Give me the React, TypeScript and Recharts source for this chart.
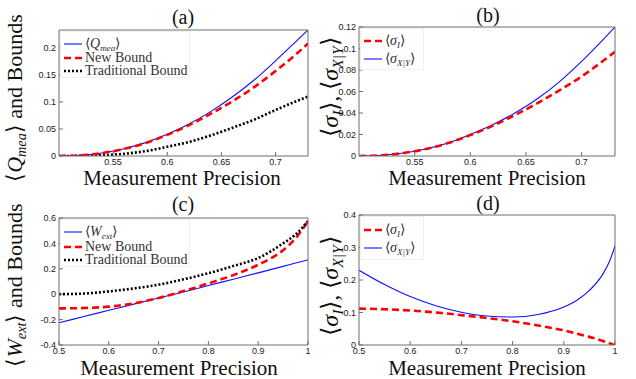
import React from 'react';
import { LineChart, Line, XAxis, YAxis } from 'recharts';

// measurement precision grid for the top row (a, b)
const precisionTop = [0.5, 0.52, 0.54, 0.56, 0.58, 0.6, 0.62, 0.64, 0.66, 0.68, 0.7, 0.72, 0.73];
const qMea = [0, 0.0013, 0.0056, 0.0134, 0.0247, 0.04, 0.059, 0.082, 0.109, 0.14, 0.176, 0.214, 0.233];
const newBoundA = [0, 0.0013, 0.0055, 0.013, 0.024, 0.039, 0.057, 0.078, 0.101, 0.127, 0.157, 0.19, 0.208];
const tradBoundA = [0, 0.0003, 0.0015, 0.004, 0.009, 0.017, 0.026, 0.038, 0.052, 0.067, 0.085, 0.102, 0.11];
const sigmaIB = [0, 0.0007, 0.0028, 0.0065, 0.012, 0.0195, 0.028, 0.038, 0.049, 0.061, 0.074, 0.089, 0.097];
const sigmaXYB = [0, 0.0007, 0.0028, 0.0065, 0.012, 0.02, 0.029, 0.04, 0.053, 0.069, 0.088, 0.109, 0.12];

// bottom row (c)
const precisionC = [0.5, 0.55, 0.6, 0.65, 0.7, 0.75, 0.8, 0.85, 0.9, 0.95, 0.975, 1.0];
const wExt = [-0.225, -0.176, -0.127, -0.078, -0.03, 0.018, 0.068, 0.118, 0.168, 0.219, 0.245, 0.27];
const newBoundC = [-0.112, -0.109, -0.098, -0.072, -0.03, 0.025, 0.085, 0.15, 0.232, 0.347, 0.44, 0.575];
const tradBoundC = [0, 0.005, 0.022, 0.045, 0.075, 0.117, 0.165, 0.222, 0.285, 0.4, 0.47, 0.575];

// bottom row (d)
const precisionD = [0.5, 0.55, 0.6, 0.65, 0.7, 0.75, 0.8, 0.85, 0.9, 0.925, 0.95, 0.975, 0.99, 1.0];
const sigmaID = [0.112, 0.11, 0.106, 0.1, 0.092, 0.083, 0.073, 0.06, 0.045, 0.035, 0.025, 0.013, 0.005, 0];
const sigmaXYD = [0.23, 0.186, 0.149, 0.121, 0.101, 0.089, 0.086, 0.094, 0.117, 0.137, 0.168, 0.215, 0.26, 0.305];

const xTicksTop = [0.55, 0.6, 0.65, 0.7];
const xTicksBottom = [0.5, 0.6, 0.7, 0.8, 0.9, 1];
const yTicksA = [0, 0.05, 0.1, 0.15, 0.2];
const yTicksB = [0, 0.02, 0.04, 0.06, 0.08, 0.1, 0.12];
const yTicksC = [-0.4, -0.2, 0, 0.2, 0.4, 0.6];
const yTicksD = [0, 0.1, 0.2, 0.3, 0.4];

const dataA = precisionTop.map((x, i) => ({ x, q: qMea[i], nb: newBoundA[i], tb: tradBoundA[i] }));
const dataB = precisionTop.map((x, i) => ({ x, si: sigmaIB[i], sxy: sigmaXYB[i] }));
const dataC = precisionC.map((x, i) => ({ x, w: wExt[i], nb: newBoundC[i], tb: tradBoundC[i] }));
const dataD = precisionD.map((x, i) => ({ x, si: sigmaID[i], sxy: sigmaXYD[i] }));

const serif = '"Liberation Serif", "Times New Roman", serif';
const sans = '"Liberation Sans", Arial, sans-serif';
const axisColor = '#6f6f6f';

const BLUE = { stroke: '#1010ff', strokeWidth: 1.1 };
const RED = { stroke: '#ff0000', strokeWidth: 2.6, strokeDasharray: '7 4' };
const BLACK = { stroke: '#000000', strokeWidth: 2.6, strokeDasharray: '2 2' };

type SeriesDef = { key: string; style: { stroke: string; strokeWidth: number; strokeDasharray?: string } };

// plot: the inner plotting box relative to the chart (x0, y0, x1, y1)
const Panel = ({ left, top, width, height, plot, data, xDomain, xTicks, yDomain, yTicks, series }: {
  left: number; top: number; width: number; height: number;
  plot: [number, number, number, number];
  data: any[]; xDomain: [number, number]; xTicks: number[];
  yDomain: [number, number]; yTicks: number[]; series: SeriesDef[];
}) => {
  const tickStyle = { fontSize: 9, fill: '#222', fontFamily: sans };
  // axes take 1px each, so the margins are one pixel smaller than the plot offsets
  const margin = { left: plot[0] - 1, top: plot[1] - 1, right: width - plot[2] - 1, bottom: height - plot[3] - 1 };
  return (
    <div style={{ position: 'absolute', left, top }}>
      <LineChart width={width} height={height} data={data} margin={margin}>
        <XAxis xAxisId="b" dataKey="x" type="number" domain={xDomain} ticks={xTicks} allowDataOverflow
          height={1} tickSize={-4} tickMargin={7} interval={0}
          axisLine={{ stroke: axisColor }} tickLine={{ stroke: axisColor }} tick={tickStyle} />
        <XAxis xAxisId="t" orientation="top" dataKey="x" type="number" domain={xDomain} ticks={xTicks} allowDataOverflow
          height={1} tickSize={-4} interval={0}
          axisLine={{ stroke: axisColor }} tickLine={{ stroke: axisColor }} tick={false} />
        <YAxis yAxisId="l" type="number" domain={yDomain} ticks={yTicks} allowDataOverflow
          width={1} tickSize={-4} tickMargin={7} interval={0}
          axisLine={{ stroke: axisColor }} tickLine={{ stroke: axisColor }} tick={tickStyle} />
        <YAxis yAxisId="r" orientation="right" type="number" domain={yDomain} ticks={yTicks} allowDataOverflow
          width={1} tickSize={-4} interval={0}
          axisLine={{ stroke: axisColor }} tickLine={{ stroke: axisColor }} tick={false} />
        {series.map(s => (
          <Line key={s.key} xAxisId="b" yAxisId="l" dataKey={s.key} type="monotone" dot={false}
            isAnimationActive={false} {...s.style} />
        ))}
      </LineChart>
    </div>
  );
};

const Sample = ({ style }: { style: SeriesDef['style'] }) => (
  <svg width={18} height={8} style={{ display: 'block', flex: 'none' }}>
    <line x1={0} y1={4} x2={18} y2={4} stroke={style.stroke}
      strokeWidth={style.strokeWidth} strokeDasharray={style.strokeDasharray} />
  </svg>
);

const LegendBox = ({ left, top, width, height, rows }: {
  left: number; top: number; width: number; height: number;
  rows: { cy: number; style: SeriesDef['style']; label: React.ReactNode }[];
}) => (
  <div style={{ position: 'absolute', left, top, width, height, background: '#fff', border: '1px solid #f0f0f0' }}>
    {rows.map((r, i) => (
      <div key={i} style={{ position: 'absolute', left: 3, top: r.cy - top - 8, height: 16, display: 'flex',
        alignItems: 'center', gap: 3, whiteSpace: 'nowrap', fontFamily: serif, fontSize: 14, color: '#333', lineHeight: 1 }}>
        <Sample style={r.style} />
        <span>{r.label}</span>
      </div>
    ))}
  </div>
);

const Text = ({ cx, cy, size, rotate, children }: { cx: number; cy: number; size: number; rotate?: boolean; children: React.ReactNode }) => (
  <div style={{ position: 'absolute', left: cx, top: cy, transform: `translate(-50%, -50%)${rotate ? ' rotate(-90deg)' : ''}`,
    whiteSpace: 'nowrap', fontFamily: serif, fontSize: size, color: '#111', lineHeight: 1 }}>
    {children}
  </div>
);

const Sub = ({ children }: { children: React.ReactNode }) => (
  <sub style={{ fontSize: '0.65em', fontStyle: 'italic', verticalAlign: '-0.3em', lineHeight: 0 }}>{children}</sub>
);

const qLabel = <>⟨<i>Q</i><Sub>mea</Sub>⟩</>;
const wLabel = <>⟨<i>W</i><Sub>ext</Sub>⟩</>;
const siLabel = <>⟨<i>σ</i><Sub>I</Sub>⟩</>;
const sxyLabel = <>⟨<i>σ</i><Sub>X|Y</Sub>⟩</>;

export default function App() {
  return (
    <div style={{ position: 'absolute', left: 0, top: 0, width: 636, height: 379, background: '#fff', overflow: 'hidden' }}>
      <Panel left={0} top={0} width={318} height={185} plot={[59, 30, 308, 156]}
        data={dataA} xDomain={[0.5, 0.73]} xTicks={xTicksTop} yDomain={[0, 0.233]} yTicks={yTicksA}
        series={[{ key: 'tb', style: BLACK }, { key: 'q', style: BLUE }, { key: 'nb', style: RED }]} />
      <Panel left={318} top={0} width={318} height={185} plot={[41, 27, 297, 156]}
        data={dataB} xDomain={[0.5, 0.73]} xTicks={xTicksTop} yDomain={[0, 0.12]} yTicks={yTicksB}
        series={[{ key: 'sxy', style: BLUE }, { key: 'si', style: RED }]} />
      <Panel left={0} top={185} width={318} height={194} plot={[59, 33, 308, 160]}
        data={dataC} xDomain={[0.5, 1]} xTicks={xTicksBottom} yDomain={[-0.4, 0.6]} yTicks={yTicksC}
        series={[{ key: 'w', style: BLUE }, { key: 'nb', style: RED }, { key: 'tb', style: BLACK }]} />
      <Panel left={318} top={185} width={318} height={194} plot={[41, 30, 297, 160]}
        data={dataD} xDomain={[0.5, 1]} xTicks={xTicksBottom} yDomain={[0, 0.4]} yTicks={yTicksD}
        series={[{ key: 'sxy', style: BLUE }, { key: 'si', style: RED }]} />

      <LegendBox left={60} top={31} width={128} height={45} rows={[
        { cy: 42.5, style: BLUE, label: qLabel },
        { cy: 56.5, style: RED, label: 'New Bound' },
        { cy: 69.5, style: BLACK, label: 'Traditional Bound' },
      ]} />
      <LegendBox left={360} top={28} width={62} height={40} rows={[
        { cy: 39.5, style: RED, label: siLabel },
        { cy: 57.5, style: BLUE, label: sxyLabel },
      ]} />
      <LegendBox left={60} top={219} width={128} height={46} rows={[
        { cy: 231, style: BLUE, label: wLabel },
        { cy: 246, style: RED, label: 'New Bound' },
        { cy: 259.3, style: BLACK, label: 'Traditional Bound' },
      ]} />
      <LegendBox left={360} top={216} width={62} height={42} rows={[
        { cy: 228.5, style: RED, label: siLabel },
        { cy: 247.3, style: BLUE, label: sxyLabel },
      ]} />

      <Text cx={183} cy={17} size={20}>(a)</Text>
      <Text cx={488} cy={15} size={20}>(b)</Text>
      <Text cx={183} cy={204} size={20}>(c)</Text>
      <Text cx={488} cy={203} size={20}>(d)</Text>

      <Text cx={182} cy={178} size={21}>Measurement Precision</Text>
      <Text cx={487} cy={178} size={21}>Measurement Precision</Text>
      <Text cx={179} cy={368} size={21}>Measurement Precision</Text>
      <Text cx={487} cy={368} size={21}>Measurement Precision</Text>

      <Text cx={15} cy={98} size={22} rotate>{qLabel} and Bounds</Text>
      <Text cx={15} cy={285} size={22} rotate>{wLabel} and Bounds</Text>
      <Text cx={330} cy={87} size={24} rotate>{siLabel}, {sxyLabel}</Text>
      <Text cx={330} cy={286} size={24} rotate>{siLabel}, {sxyLabel}</Text>
    </div>
  );
}
